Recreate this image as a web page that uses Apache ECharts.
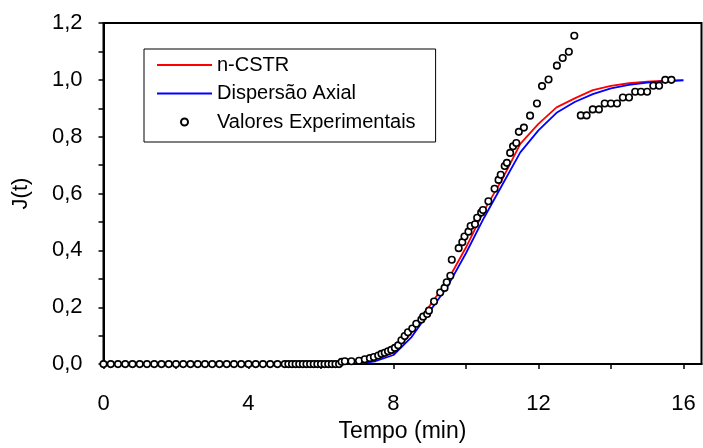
<!DOCTYPE html>
<html>
<head>
<meta charset="utf-8">
<script src="https://cdn.jsdelivr.net/npm/echarts@6/dist/echarts.min.js"></script>
<style>
  html, body { margin: 0; padding: 0; background: #fff; }
  #chart { width: 703px; height: 448px; }
</style>
</head>
<body>
<div id="chart"></div>
<script>
// Experimental points: time (min) and J(t)
const tempoExp = [
  0, 0.2, 0.4, 0.6, 0.8, 1.0, 1.2, 1.4, 1.6, 1.8, 2.0, 2.2, 2.4, 2.6, 2.8,
  3.0, 3.2, 3.4, 3.6, 3.8, 4.0, 4.2, 4.4, 4.6, 4.8,
  5.0, 5.1, 5.2, 5.3, 5.4, 5.5, 5.6, 5.7, 5.8, 5.9, 6.0, 6.1, 6.2, 6.3, 6.4, 6.5,
  6.57, 6.66, 6.84, 7.05, 7.21, 7.35, 7.46, 7.58, 7.67, 7.76, 7.85, 7.94,
  8.04, 8.13, 8.22, 8.31, 8.40, 8.52, 8.63, 8.77, 8.82, 8.93, 8.98,
  9.12, 9.29, 9.41, 9.47, 9.57, 9.61, 9.80, 9.90, 9.96,
  10.07, 10.13, 10.25, 10.31, 10.42, 10.47, 10.62, 10.79, 10.90, 10.96,
  11.07, 11.13, 11.22, 11.30, 11.39, 11.46, 11.60, 11.77,
  11.96, 12.10, 12.28, 12.51, 12.67, 12.84, 12.99,
  13.17, 13.33, 13.50, 13.67, 13.83, 14.00, 14.17, 14.33, 14.50,
  14.67, 14.83, 15.00, 15.17, 15.33, 15.50, 15.67
];
const jExp = [
  0, 0, 0, 0, 0, 0, 0, 0, 0, 0, 0, 0, 0, 0, 0,
  0, 0, 0, 0, 0, 0, 0, 0, 0, 0,
  0, 0, 0, 0, 0, 0, 0, 0, 0, 0, 0, 0, 0, 0, 0, 0,
  0.008, 0.010, 0.010, 0.012, 0.017, 0.021, 0.025, 0.030, 0.036, 0.040, 0.045, 0.050,
  0.057, 0.066, 0.084, 0.099, 0.112, 0.125, 0.142, 0.157, 0.167, 0.176, 0.188,
  0.220, 0.252, 0.268, 0.288, 0.311, 0.367, 0.408, 0.429, 0.449,
  0.466, 0.486, 0.492, 0.515, 0.533, 0.542, 0.573, 0.617, 0.648, 0.666,
  0.697, 0.708, 0.743, 0.766, 0.778, 0.817, 0.832, 0.874,
  0.917, 0.978, 1.001, 1.050, 1.077, 1.099, 1.155,
  0.875, 0.875, 0.896, 0.896, 0.917, 0.917, 0.917, 0.938, 0.938,
  0.958, 0.958, 0.958, 0.979, 0.979, 1.000, 1.000
];

// Model curves
const tempoModelo = [7.0, 7.5, 8.0, 8.5, 9.0, 9.5, 10.0, 10.5, 11.0, 11.5, 12.0,
                     12.5, 13.0, 13.5, 14.0, 14.5, 15.0, 15.5, 16.0];
const jCSTR = [0.004, 0.015, 0.040, 0.110, 0.205, 0.295, 0.410, 0.540, 0.650, 0.775, 0.845,
               0.903, 0.935, 0.964, 0.979, 0.988, 0.994, 0.997, 0.999];
const jDispersao = [0.002, 0.010, 0.032, 0.095, 0.185, 0.275, 0.390, 0.515, 0.630, 0.745, 0.822,
                    0.884, 0.922, 0.950, 0.970, 0.982, 0.990, 0.995, 0.998];

// Axis ticks and labels
const xTicks = [0, 2, 4, 6, 8, 10, 12, 14, 16];
const xLabels = [0, 4, 8, 12, 16];
const yTicks = [0, 0.1, 0.2, 0.3, 0.4, 0.5, 0.6, 0.7, 0.8, 0.9, 1.0, 1.1, 1.2];
const yLabels = [0, 0.2, 0.4, 0.6, 0.8, 1.0, 1.2];

const zip = (xs, ys) => xs.map((x, i) => [x, ys[i]]);
const FONT = '"Liberation Sans", Arial, Helvetica, sans-serif';

const chart = echarts.init(document.getElementById('chart'), null, { renderer: 'canvas' });
chart.setOption({
  animation: false,
  backgroundColor: '#fff',
  textStyle: { fontFamily: FONT, color: '#000' },
  grid: {
    left: 103.5, right: 1.5, top: 23, bottom: 81,
    show: true, borderColor: '#000', borderWidth: 2, backgroundColor: 'transparent'
  },
  legend: {
    left: 144, top: 49,
    orient: 'vertical',
    padding: [5, 20, 9, 12],
    borderColor: '#000', borderWidth: 1,
    backgroundColor: '#fff',
    itemWidth: 55, itemHeight: 7, itemGap: 6.5,
    textStyle: { fontFamily: FONT, fontSize: 20, color: '#000', lineHeight: 22 },
    data: [
      { name: 'n-CSTR', itemStyle: { opacity: 0 } },
      { name: 'Dispersão Axial', itemStyle: { opacity: 0 } },
      { name: 'Valores Experimentais' }
    ]
  },
  xAxis: {
    type: 'value', min: 0, max: 16.5,
    name: 'Tempo (min)', nameLocation: 'middle', nameGap: 55,
    nameTextStyle: { fontFamily: FONT, fontSize: 23, color: '#000' },
    axisLine: { show: true, onZero: false, lineStyle: { color: '#000', width: 2 } },
    axisTick: { show: true, inside: false, length: 5, customValues: xTicks,
                lineStyle: { color: '#000', width: 1.5 } },
    axisLabel: { customValues: xLabels, margin: 29, fontFamily: FONT, fontSize: 22, color: '#000' },
    splitLine: { show: false }
  },
  yAxis: {
    type: 'value', min: 0, max: 1.2,
    name: 'J(t)', nameLocation: 'middle', nameGap: 72, nameRotate: 90,
    nameTextStyle: { fontFamily: FONT, fontSize: 22, color: '#000' },
    axisLine: { show: true, onZero: false, lineStyle: { color: '#000', width: 2 } },
    axisTick: { show: true, inside: false, length: 5, customValues: yTicks,
                lineStyle: { color: '#000', width: 1.5 } },
    axisLabel: { customValues: yLabels, margin: 21, fontFamily: FONT, fontSize: 22, color: '#000',
                 formatter: v => v.toFixed(1).replace('.', ',') },
    splitLine: { show: false }
  },
  series: [
    {
      name: 'n-CSTR', type: 'line', data: zip(tempoModelo, jCSTR),
      symbol: 'none', smooth: false, z: 3,
      lineStyle: { color: '#ff0000', width: 1.8 }, itemStyle: { color: '#ff0000' }
    },
    {
      name: 'Dispersão Axial', type: 'line', data: zip(tempoModelo, jDispersao),
      symbol: 'none', smooth: false, z: 3,
      lineStyle: { color: '#0000ff', width: 1.8 }, itemStyle: { color: '#0000ff' }
    },
    {
      name: 'Valores Experimentais', type: 'scatter', data: zip(tempoExp, jExp),
      symbol: 'circle', symbolSize: 6.5, z: 5,
      itemStyle: { color: '#fff', borderColor: '#000', borderWidth: 1.6, opacity: 1 }
    }
  ]
});
</script>
</body>
</html>
